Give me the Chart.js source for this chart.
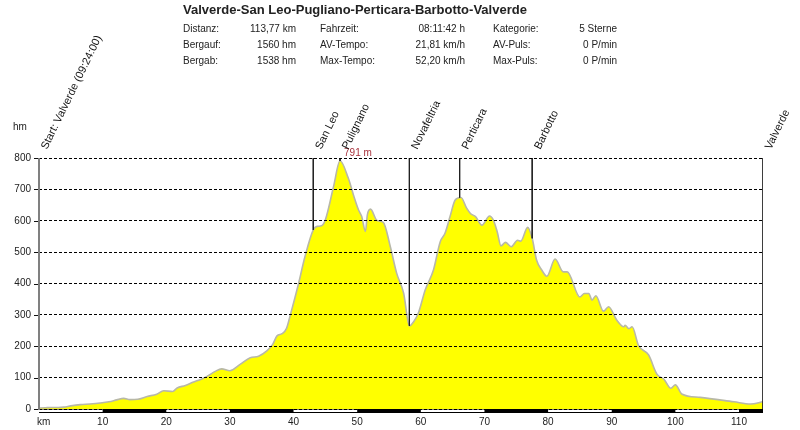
<!DOCTYPE html>
<html><head><meta charset="utf-8">
<style>html,body{margin:0;padding:0;background:#fff}#w{width:800px;height:430px;position:relative}</style>
<script src="https://cdn.jsdelivr.net/npm/chart.js@4"></script></head>
<body><div id="w"><canvas id="c" width="800" height="430"></canvas></div>
<script>
const titleText = "Valverde-San Leo-Pugliano-Perticara-Barbotto-Valverde";
const statCol1 = ["Distanz:", "Bergauf:", "Bergab:"];
const statVal1 = ["113,77 km", "1560 hm", "1538 hm"];
const statCol2 = ["Fahrzeit:", "AV-Tempo:", "Max-Tempo:"];
const statVal2 = ["08:11:42 h", "21,81 km/h", "52,20 km/h"];
const statCol3 = ["Kategorie:", "AV-Puls:", "Max-Puls:"];
const statVal3 = ["5 Sterne", "0 P/min", "0 P/min"];
const km = [0,1,2,3,3.9,5,6.5,8,9.6,11,12.2,13.3,14.3,15.5,17,18.5,19.6,21,21.7,23,24.3,25.5,26.4,27.7,28.7,30,31.6,33.2,34.5,35.8,36.7,37.4,38.2,38.9,39.5,40.8,41.8,43.1,43.7,44.4,45,46.3,47.3,48.6,49.4,50.2,50.7,51.3,51.6,52.1,53.1,54.1,55.2,56.2,57.3,58.2,58.9,59.6,60.7,62,63.05,63.8,64.6,65.4,66.3,67.2,67.8,68.6,69.6,70.8,71.4,72,72.6,73.3,74.2,75.2,75.7,76.8,77.5,78.2,79,79.8,81.1,82.4,83,85,85.7,86.4,86.9,87.5,88.7,89.5,90.8,91.9,92.1,92.7,93.2,94.2,95.8,97.1,98.2,99.3,100,101,103.9,109.2,111.8,113.77];
const elevation = [3,4,5,5,6,10,14,16,19,23,29,34,30,31,40,47,58,56,67,75,86,95,104,120,128,122,142,163,168,185,205,233,240,257,300,401,486,571,582,584,603,710,791,736,683,635,614,566,619,637,601,595,518,433,369,265,279,305,380,444,533,560,614,666,674,640,623,613,586,615,602,565,520,531,517,538,535,579,544,474,443,423,478,437,437,357,368,368,347,361,312,326,283,262,267,256,262,203,172,111,95,66,77,48,37,23,16,23];
const waypointNames = ["Start: Valverde (09:24:00)","San Leo","Pulignano","Novafeltria","Perticara","Barbotto","Valverde"];
const waypointKm = [0,43.1,47.3,58.2,66.1,77.5,113.77];
const waypointFoot = [0,571,791,265,674,544,0];
const peakKm = 47.3;
const peakLabel = "791 m";
const blackBands = [[10,20],[30,40],[50,60],[70,80],[90,100],[110,113.77]];
const yUnit = "hm";
const xUnit = "km";

const profile = km.map((x,i)=>({x,y:elevation[i]}));
const stems = [];
waypointKm.forEach((x,i)=>{ if(i===0) return; stems.push({x,y:800},{x,y:waypointFoot[i]},{x,y:null}); });

const SANS = '"Liberation Sans", Arial, sans-serif';
const deco = {
  id:'deco',
  afterDatasetsDraw(chart){
    const {ctx, scales:{x,y}} = chart;
    ctx.save();
    const by = y.getPixelForValue(0);
    ctx.fillStyle='#777';
    ctx.fillRect(x.left,by,x.right-x.left,1);
    ctx.fillStyle='#fff';
    ctx.fillRect(x.left,by+1,x.right-x.left,2);
    ctx.fillStyle='#000';
    ctx.fillRect(x.left,by+3,x.right-x.left,1);
    blackBands.forEach(b=>{
      const a=x.getPixelForValue(b[0]), e=x.getPixelForValue(b[1]);
      ctx.fillRect(a,by,e-a,4);
    });
    ctx.restore();
  },
  afterDraw(chart){
    const {ctx, scales:{x,y}} = chart;
    ctx.save();
    const ax = x.getPixelForValue(0);
    ctx.fillStyle='#808080';
    ctx.fillRect(ax-1,y.top,2,y.bottom-y.top+1);
    ctx.fillStyle='#111';
    y.ticks.forEach(t=>ctx.fillRect(ax-5,Math.round(y.getPixelForValue(t.value)),4,1));
    ctx.textBaseline='alphabetic';
    ctx.textAlign='left';
    ctx.fillStyle='#222';
    ctx.font='bold 13px '+SANS;
    ctx.fillText(titleText,183,14);
    ctx.font='10px '+SANS;
    ctx.fillStyle='#222';
    const rows=[32,48,64];
    const put=(arr,px,al)=>{ctx.textAlign=al;arr.forEach((t,i)=>ctx.fillText(t,px,rows[i]));};
    put(statCol1,183,'left'); put(statVal1,296,'right');
    put(statCol2,320,'left'); put(statVal2,465,'right');
    put(statCol3,493,'left'); put(statVal3,617,'right');
    ctx.textAlign='left';
    ctx.fillText(yUnit,13,130);
    ctx.fillText(xUnit,37,425);
    ctx.fillStyle='#a8323c';
    ctx.fillText(peakLabel,x.getPixelForValue(peakKm)+4,156);
    ctx.fillStyle='#111';
    ctx.font='11px '+SANS;
    waypointNames.forEach((n,i)=>{
      ctx.save();
      ctx.translate(x.getPixelForValue(waypointKm[i])+8,150);
      ctx.rotate(-64*Math.PI/180);
      ctx.fillText(n,0,0);
      ctx.restore();
    });
    ctx.restore();
  }
};

new Chart(document.getElementById('c'),{
  type:'line',
  data:{datasets:[
    {label:'Wegpunkte',data:stems,borderColor:'#222',borderWidth:1,pointRadius:0,fill:false,tension:0,spanGaps:false,order:0},
    {label:'Höhe',data:profile,borderColor:'#b8b8a8',borderWidth:1.6,backgroundColor:'#ffff00',pointRadius:0,fill:'origin',cubicInterpolationMode:'monotone',order:1}
  ]},
  plugins:[deco],
  options:{
    responsive:false,animation:false,
    layout:{padding:{top:158,right:37,left:0,bottom:0}},
    plugins:{legend:{display:false},tooltip:{enabled:false},title:{display:false}},
    scales:{
      x:{type:'linear',min:0,max:113.77,
        afterFit(s){s.height=21;},
        grid:{display:false,drawTicks:false},
        border:{display:false},
        ticks:{stepSize:10,includeBounds:false,maxRotation:0,autoSkip:false,padding:7,color:'#222',font:{family:SANS,size:10},
          callback:v=>v===0?'':String(v)}
      },
      y:{min:0,max:800,
        afterFit(s){s.width=39;},
        grid:{color:'#000',lineWidth:1,z:1,drawTicks:false},
        border:{display:false,dash:[3,2]},
        ticks:{stepSize:100,padding:8,color:'#222',font:{family:SANS,size:10}}
      }
    }
  }
});
</script></body></html>
